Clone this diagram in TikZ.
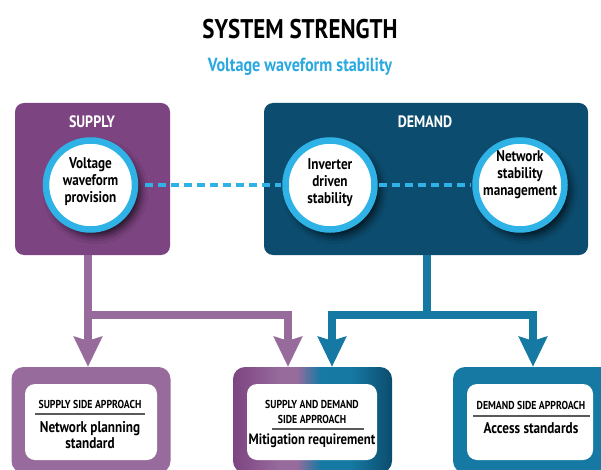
\documentclass[tikz,border=0pt]{standalone}
\usepackage{fontspec}
\newfontfamily\cf{PT Sans}[FakeStretch=0.85]
\usetikzlibrary{arrows.meta,shadows.blur,calc}
\definecolor{pdark}{HTML}{7D4482}
\definecolor{plight}{HTML}{976C9C}
\definecolor{bdark}{HTML}{0C4C6E}
\definecolor{bmid}{HTML}{1579A3}
\definecolor{ringc}{HTML}{2FB3E6}
\definecolor{subc}{HTML}{2AA9E0}
\definecolor{rulec}{HTML}{5A5A5A}
\pgfdeclarehorizontalshading{mixshade}{100bp}{color(0bp)=(pdark); color(25bp)=(pdark); color(40bp)=(plight); color(45bp)=(plight); color(52.5bp)=(bmid); color(62bp)=(bmid); color(75bp)=(bdark); color(100bp)=(bdark)}
\tikzset{
  topbox/.style={rounded corners=9pt, minimum height=152pt, inner sep=0pt},
  botbox/.style={rounded corners=12pt, minimum width=159pt, minimum height=106pt, inner sep=0pt},
  whitebox/.style={fill=white, rounded corners=10pt, minimum height=76pt, inner sep=0pt},
  ringnode/.style={circle, draw=ringc, line width=6.5pt, fill=white, minimum size=89pt, inner sep=0pt,
     blur shadow={shadow xshift=5pt, shadow yshift=-6pt, shadow blur radius=8pt, shadow opacity=80}},
  circtext/.style={font=\cf\bfseries\fontsize{15.5}{17}\selectfont, align=center, text=black},
  headtext/.style={font=\cf\bfseries\fontsize{16.5}{18}\selectfont, text=white},
  smalltext/.style={font=\cf\bfseries\fontsize{11.5}{14.5}\selectfont, align=center, text=black},
  maintext/.style={font=\cf\bfseries\fontsize{15.5}{16}\selectfont, align=center, text=black},
  ruleline/.style={draw=rulec, line width=1.3pt},
  dashconn/.style={draw=ringc, line width=4.5pt, dash pattern=on 8pt off 5pt},
  parrow/.style={draw=plight, line width=8pt, line join=miter, {Stealth[length=30pt,width=28pt,inset=4pt]}-{Stealth[length=30pt,width=28pt,inset=4pt]}},
  barrow/.style={draw=bmid, line width=8pt, line join=miter, {Stealth[length=30pt,width=28pt,inset=4pt]}-{Stealth[length=30pt,width=28pt,inset=4pt]}},
}
\begin{document}
\begin{tikzpicture}[x=1pt,y=-1pt]
\useasboundingbox (0,0) rectangle (601,470);
\clip (0,0) rectangle (601,470);
\fill[white] (0,0) rectangle (601,470);

% titles
\node[font=\cf\bfseries\fontsize{27}{30}\selectfont] (title) at (300,29) {SYSTEM STRENGTH};
\node[font=\cf\bfseries\fontsize{19}{20}\selectfont, text=subc] (subtitle) at (300,67) {Voltage waveform stability};

% top boxes
\node[topbox, fill=pdark, minimum width=155pt] (supply) at (92.5,179) {};
\node[topbox, fill=bdark, minimum width=324pt] (demand) at (426,179) {};
\node[headtext] (supplyt) at (92,122) {SUPPLY};
\node[headtext] (demandt) at (425,122) {DEMAND};

% bottom boxes
\node[botbox, fill=plight] (b1) at (91,420) {};
\node[botbox, shading=mixshade] (b2) at (312.5,420) {};
\node[botbox, fill=bmid] (b3) at (532.5,420) {};
\node[whitebox, minimum width=132pt] (w1) at (91,422) {};
\node[whitebox, minimum width=130pt] (w2) at (312,422) {};
\node[whitebox, minimum width=126pt] (w3) at (530,422) {};

% connectors
\coordinate (pl) at (88,315);
\coordinate (pr) at (288,315);
\coordinate (bl) at (332,315);
\coordinate (br) at (533,315);
\coordinate (bj) at (427,315);
\draw[draw=plight, line width=8pt] (pl |- supply.south) -- (pl);
\draw[parrow] (pl |- b1.north) -- (pl) -- (pr) -- (pr |- b2.north);
\draw[draw=bmid, line width=8pt] (bj |- demand.south) -- (bj);
\draw[barrow] (bl |- b2.north) -- (bl) -- (br) -- (br |- b3.north);

% circles
\node[ringnode] (c1) at (90.5,185) {};
\node[ringnode] (c2) at (330,185) {};
\node[ringnode] (c3) at (520,185) {};
\draw[dashconn, shorten <=7pt, shorten >=1pt] (c1.east) -- (c2.west);
\draw[dashconn, shorten <=1pt, shorten >=1pt] (c2.east) -- (c3.west);
\node[circtext] (t1) at (90.5,182) {Voltage\\waveform\\provision};
\node[circtext] (t2) at (330,183) {Inverter\\driven\\stability};
\node[circtext] (t3) at (520,175) {Network\\stability\\management};

% bottom box texts
\node[smalltext] (h1) at (90,404) {SUPPLY SIDE APPROACH};
\draw[ruleline] (35,414) -- (145,414);
\node[maintext] (m1) at (90,435) {Network planning\\standard};

\node[smalltext] (h2) at (312,412) {SUPPLY AND DEMAND\\SIDE APPROACH};
\draw[ruleline] (272,429) -- (364,429);
\node[maintext, font=\cf\bfseries\fontsize{15}{16}\selectfont] (m2) at (312,441) {Mitigation requirement};

\node[smalltext] (h3) at (531,405) {DEMAND SIDE APPROACH};
\draw[ruleline] (473,416) -- (590,416);
\node[maintext] (m3) at (531,428) {Access standards};
\end{tikzpicture}
\end{document}
